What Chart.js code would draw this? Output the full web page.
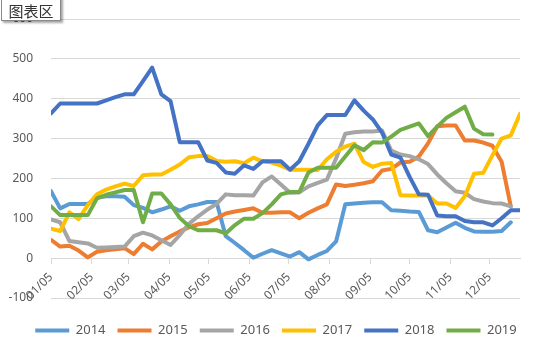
<!DOCTYPE html>
<html>
<head>
<meta charset="utf-8">
<script src="https://cdn.jsdelivr.net/npm/chart.js@4"></script>
<style>
html,body{margin:0;padding:0;background:#fff;}
#wrap{position:relative;width:539px;height:355px;overflow:hidden;}
#tip{position:absolute;left:1px;top:-4px;width:60px;height:25px;border:1px solid #8a8a8a;background:#fff;
 box-shadow:2px 2px 2px rgba(0,0,0,0.35);font-family:"Noto Sans CJK SC";font-size:15px;color:#333;
 line-height:27px;text-align:center;box-sizing:border-box;}
</style>
</head>
<body>
<div id="wrap">
<canvas id="c" width="539" height="355"></canvas>
<div id="tip">图表区</div>
</div>
<script>
// weekly observation dates (MM/DD)
const dates = ['01/05','01/12','01/19','01/26','02/02','02/09','02/16','02/23','03/02','03/09','03/16','03/23','03/30',
  '04/06','04/13','04/20','04/27','05/04','05/11','05/18','05/25','06/01','06/08','06/15','06/22','06/29',
  '07/06','07/13','07/20','07/27','08/03','08/10','08/17','08/24','08/31','09/07','09/14','09/21','09/28',
  '10/05','10/12','10/19','10/26','11/02','11/09','11/16','11/23','11/30','12/07','12/14','12/21','12/28'];
const tickLabels = ['01/05','02/05','03/05','04/05','05/05','06/05','07/05','08/05','09/05','10/05','11/05','12/05'];
const seriesNames = ['2014','2015','2016','2017','2018','2019'];

const v2014 = [168,125,136,136,136,152,155,155,154,133,126,115,122,130,119,130,135,141,141,55,38,20,1,11,20,12,4,15,-3,8,18,42,
  135,137,139,140,140,120,119,117,116,70,65,77,89,76,67,66,66,68,90];
const v2015 = [46,29,31,19,2,16,20,22,25,10,36,22,42,55,67,77,85,88,100,112,117,121,125,114,114,115,115,100,114,125,135,185,
  181,184,188,193,220,224,240,242,255,288,331,333,333,295,295,290,282,242,130];
const v2016 = [97,90,43,40,37,26,27,28,29,55,64,57,45,33,58,86,105,122,136,160,158,158,157,190,205,185,164,165,180,189,197,250,
  312,316,318,318,320,270,260,256,248,236,210,188,168,164,148,142,138,137,130];
const v2017 = [74,68,115,98,133,160,172,180,187,181,208,210,210,222,235,253,256,256,244,242,243,238,252,243,240,232,222,222,222,
  221,248,267,280,287,241,229,237,239,158,157,157,157,137,137,126,155,212,214,258,300,308,362];
const v2018 = [363,388,388,388,388,388,396,404,411,411,444,478,411,394,291,291,291,245,239,215,212,233,224,243,243,243,222,243,
  287,333,359,359,359,396,370,348,315,260,252,204,160,159,107,105,105,93,90,90,82,100,120,120];
const v2019 = [130,108,108,108,108,150,159,165,171,171,90,162,162,135,101,80,70,70,70,62,83,99,99,113,135,160,166,166,215,227,
  227,227,255,283,271,291,290,305,322,330,338,306,330,352,366,380,325,311,310];

const seriesValues = [v2014, v2015, v2016, v2017, v2018, v2019];
const seriesColors = ['#5B9BD5','#ED7D31','#A5A5A5','#FFC000','#4472C4','#70AD47'];

const cumDays = [0,31,59,90,120,151,181,212,243,273,304,334];
function dayOfYear(s){ const p = s.split('/').map(Number); return cumDays[p[0]-1] + p[1]; }
const baseDay = dayOfYear(dates[0]);
const xOf = s => dayOfYear(s) - baseDay;
const labelByX = {};
tickLabels.forEach(t => { labelByX[xOf(t)] = t; });

const FONT = '"Noto Sans", "DejaVu Sans", sans-serif';
const TXT = '#595959';

const datasets = seriesNames.map((name, k) => ({
  label: name,
  data: seriesValues[k].map((v, i) => ({x: xOf(dates[i]), y: v})),
  borderColor: seriesColors[k],
  backgroundColor: seriesColors[k],
  borderWidth: 4,
  pointRadius: 0,
  pointHoverRadius: 0,
  tension: 0,
  fill: false,
  borderJoinStyle: 'round',
  borderCapStyle: 'round',
  order: seriesNames.length - k
}));

const legendShift = {
  id: 'legendShift',
  afterLayout(chart) {
    const L = chart.legend;
    if (L) { L.left += 16; L.right += 16; }
  }
};

new Chart(document.getElementById('c'), {
  type: 'line',
  data: { datasets },
  plugins: [legendShift],
  options: {
    responsive: false,
    animation: false,
    events: [],
    layout: { padding: { left: 0, right: 19, top: 19, bottom: 8 } },
    scales: {
      x: {
        type: 'linear',
        min: 0,
        max: xOf(dates[dates.length - 1]),
        position: { y: 0 },
        afterBuildTicks: s => { s.ticks = tickLabels.map(t => ({ value: xOf(t) })); },
        ticks: {
          autoSkip: false, minRotation: 45, maxRotation: 45, padding: 7,
          color: TXT, font: { family: FONT, size: 12 },
          callback: v => labelByX[v]
        },
        grid: { drawOnChartArea: false, drawTicks: true, tickLength: 5, color: '#D9D9D9' },
        border: { display: true, color: '#D9D9D9', width: 1 }
      },
      y: {
        min: -100, max: 600,
        afterFit: s => { s.width = 51; },
        ticks: { stepSize: 100, color: TXT, font: { family: FONT, size: 12 }, padding: 0 },
        grid: { color: '#D9D9D9', drawTicks: true, tickLength: 18, tickColor: 'rgba(0,0,0,0)' },
        border: { display: false }
      }
    },
    plugins: {
      tooltip: { enabled: false },
      legend: {
        position: 'bottom',
        title: { display: true, text: '', padding: { top: 13, bottom: 0 }, font: { size: 1, lineHeight: 1 } },
        labels: {
          boxWidth: 34, boxHeight: 4, padding: 12,
          color: TXT, font: { family: FONT, size: 13 },
          sort: (a, b) => a.datasetIndex - b.datasetIndex,
          generateLabels: chart => Chart.defaults.plugins.legend.labels.generateLabels(chart)
            .map(l => Object.assign(l, { lineWidth: 0 }))
        }
      }
    }
  }
});
</script>
</body>
</html>
